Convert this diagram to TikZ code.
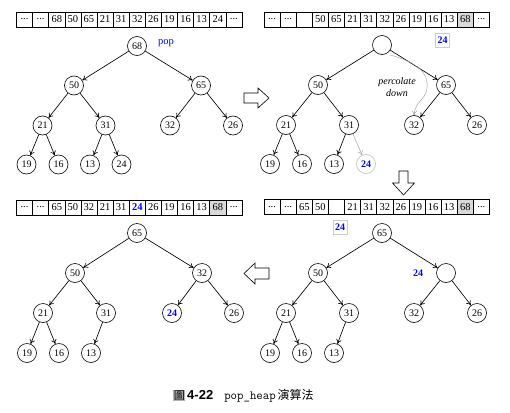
\documentclass[tikz,border=0pt]{standalone}
\usepackage{fontspec}
\setmainfont{Liberation Serif}
\setsansfont{Liberation Sans}
\newfontfamily\cjk{Noto Sans CJK TC}
\usetikzlibrary{positioning}
\usetikzlibrary{arrows.meta}

\newcommand{\gapdots}{...}

\tikzset{
  key/.style={circle, draw, line width=0.6pt, minimum size=19pt, inner sep=0pt, font=\fontsize{10}{12}\selectfont},
  hot/.style={key, text=blue, font=\fontsize{10}{12}\selectfont\bfseries},
  ghost/.style={hot, draw=black!25},
  cell/.style={draw, line width=0.6pt, minimum width=16.1pt, minimum height=15pt, inner sep=0pt, font=\fontsize{10.5}{12}\selectfont},
  used/.style={cell, fill=black!15},
  fresh/.style={cell, text=blue, font=\fontsize{10.5}{12}\selectfont\bfseries},
  spare/.style={draw=black!20, text=blue, minimum size=14pt, inner sep=0pt, font=\fontsize{10}{12}\selectfont\bfseries},
  link/.style={-{To[length=4.5pt, width=5.5pt]}, line width=0.65pt},
  drift/.style={link, draw=black!40, line width=0.4pt},
  bigarrow/.style={draw, line width=0.6pt, fill=white},
}

\begin{document}
\begin{tikzpicture}[x=1pt, y=-1pt, on grid]

    \useasboundingbox (0,0) rectangle (510,412);

    % arrays
    \foreach \v/\s [count=\i] in {\gapdots/cell, \gapdots/cell, 68/cell, 50/cell, 65/cell, 21/cell, 31/cell, 32/cell, 26/cell, 19/cell, 16/cell, 13/cell, 24/cell, \gapdots/cell}
        \node[\s] (cella\i) at ({16.5+16.1*(\i-0.5)}, 19.5) {\v};
    \foreach \v/\s [count=\i] in {\gapdots/cell, \gapdots/cell, {}/cell, 50/cell, 65/cell, 21/cell, 31/cell, 32/cell, 26/cell, 19/cell, 16/cell, 13/cell, 68/used, \gapdots/cell}
        \node[\s] (cellb\i) at ({264+16.1*(\i-0.5)}, 19.5) {\v};
    \foreach \v/\s [count=\i] in {\gapdots/cell, \gapdots/cell, 65/cell, 50/cell, {}/cell, 21/cell, 31/cell, 32/cell, 26/cell, 19/cell, 16/cell, 13/cell, 68/used, \gapdots/cell}
        \node[\s] (cellc\i) at ({264+16.1*(\i-0.5)}, 207) {\v};
    \foreach \v/\s [count=\i] in {\gapdots/cell, \gapdots/cell, 65/cell, 50/cell, 32/cell, 21/cell, 31/cell, 24/fresh, 26/cell, 19/cell, 16/cell, 13/cell, 68/used, \gapdots/cell}
        \node[\s] (celld\i) at ({16.5+16.1*(\i-0.5)}, 207.5) {\v};

    % top left tree
    \node[key] (a68) at (137,46) {68};
    \node[right=29pt of a68, yshift=3pt, text=blue, font=\fontsize{10.5}{12}\selectfont] (pop) {pop};
    \node[key, below left=39.5pt and 63pt of a68] (a50) {50};
    \node[key, below right=39.5pt and 64pt of a68] (a65) {65};
    \node[key, below left=40pt and 31.5pt of a50] (a21) {21};
    \node[key, below right=40pt and 31.5pt of a50] (a31) {31};
    \node[key, below left=40pt and 31pt of a65] (a32) {32};
    \node[key, below right=40pt and 32pt of a65] (a26) {26};
    \node[key, below left=39pt and 16pt of a21] (a19) {19};
    \node[key, below right=39pt and 16pt of a21] (a16) {16};
    \node[key, below left=39pt and 15.5pt of a31] (a13) {13};
    \node[key, below right=39pt and 16pt of a31] (a24) {24};
    \foreach \p/\c in {a68/a50, a68/a65, a50/a21, a50/a31, a65/a32, a65/a26, a21/a19, a21/a16, a31/a13, a31/a24}
        \draw[link] (\p) -- (\c);

    % top right tree
    \node[spare] (b24box) at (442.5,40) {24};
    \node[key] (bhole) at (382,45) {};
    \node[key, below left=40pt and 64pt of bhole] (b50) {50};
    \node[key, below right=40pt and 64pt of bhole] (b65) {65};
    \node[key, below left=40pt and 32pt of b50] (b21) {21};
    \node[key, below right=40pt and 31pt of b50] (b31) {31};
    \node[key, below left=40pt and 32pt of b65] (b32) {32};
    \node[key, below right=40pt and 31pt of b65] (b26) {26};
    \node[key, below left=39pt and 16pt of b21] (b19) {19};
    \node[key, below right=39pt and 16pt of b21] (b16) {16};
    \node[key, below left=39pt and 15pt of b31] (b13) {13};
    \node[ghost, below right=39pt and 17pt of b31] (b24) {24};
    \foreach \p/\c in {bhole/b50, bhole/b65, b50/b21, b50/b31, b65/b32, b65/b26, b21/b19, b21/b16, b31/b13}
        \draw[link] (\p) -- (\c);
    \draw[drift] (b31) -- (b24);
    \node[align=center, font=\fontsize{10}{12}\selectfont\itshape] (perc) at (397,87) {percolate\\down};
    \draw[drift] ([shift={(1,3)}]bhole.south east) .. controls (416,62) and (429,72) .. (427,88)
        .. controls (426,100) and (415,101) .. (b32.north);

    % bottom right tree
    \node[spare] (c24box) at (340,227) {24};
    \node[key] (c65) at (382,233) {65};
    \node[key, below left=40pt and 64pt of c65] (c50) {50};
    \node[key, below right=40pt and 64pt of c65] (chole) {};
    \node[left=28pt of chole, text=blue, font=\fontsize{10}{12}\selectfont\bfseries] (c24) {24};
    \node[key, below left=40pt and 32pt of c50] (c21) {21};
    \node[key, below right=40pt and 31pt of c50] (c31) {31};
    \node[key, below left=40pt and 32pt of chole] (c32) {32};
    \node[key, below right=40pt and 31pt of chole] (c26) {26};
    \node[key, below left=40pt and 16pt of c21] (c19) {19};
    \node[key, below right=40pt and 16pt of c21] (c16) {16};
    \node[key, below left=40pt and 15pt of c31] (c13) {13};
    \foreach \p/\c in {c65/c50, c65/chole, c50/c21, c50/c31, chole/c32, chole/c26, c21/c19, c21/c16, c31/c13}
        \draw[link] (\p) -- (\c);

    % bottom left tree
    \node[key] (d65) at (137,233) {65};
    \node[key, below left=40pt and 62pt of d65] (d50) {50};
    \node[key, below right=40pt and 65pt of d65] (d32) {32};
    \node[key, below left=40pt and 32pt of d50] (d21) {21};
    \node[key, below right=40pt and 31pt of d50] (d31) {31};
    \node[hot, below left=40pt and 30pt of d32] (d24) {24};
    \node[key, below right=40pt and 32pt of d32] (d26) {26};
    \node[key, below left=40pt and 16pt of d21] (d19) {19};
    \node[key, below right=40pt and 16pt of d21] (d16) {16};
    \node[key, below left=40pt and 15pt of d31] (d13) {13};
    \foreach \p/\c in {d65/d50, d65/d32, d50/d21, d50/d31, d32/d24, d32/d26, d21/d19, d21/d16, d31/d13}
        \draw[link] (\p) -- (\c);

    % step arrows
    \draw[bigarrow] (244,93) -- (258,93) -- (258,88) -- (269,98) -- (258,108) -- (258,103) -- (244,103) -- cycle;
    \draw[bigarrow] (399,171) -- (408,171) -- (408,183) -- (414.5,183) -- (403.5,195) -- (392.5,183) -- (399,183) -- cycle;
    \draw[bigarrow] (269,268) -- (255,268) -- (255,263) -- (244,273.5) -- (255,284) -- (255,279) -- (269,279) -- cycle;

    % caption
    \node[font=\fontsize{11}{13}\selectfont] (caption) at (243.5,396)
        {{\fboxsep=0.5pt\colorbox{black!30}{\cjk 圖}}\,{\sffamily\bfseries\fontsize{13}{15}\selectfont 4-22}\quad{\ttfamily\fontsize{12.5}{14}\selectfont pop\_heap}\,{\cjk\fontsize{12}{14}\selectfont 演算法}};

\end{tikzpicture}
\end{document}
